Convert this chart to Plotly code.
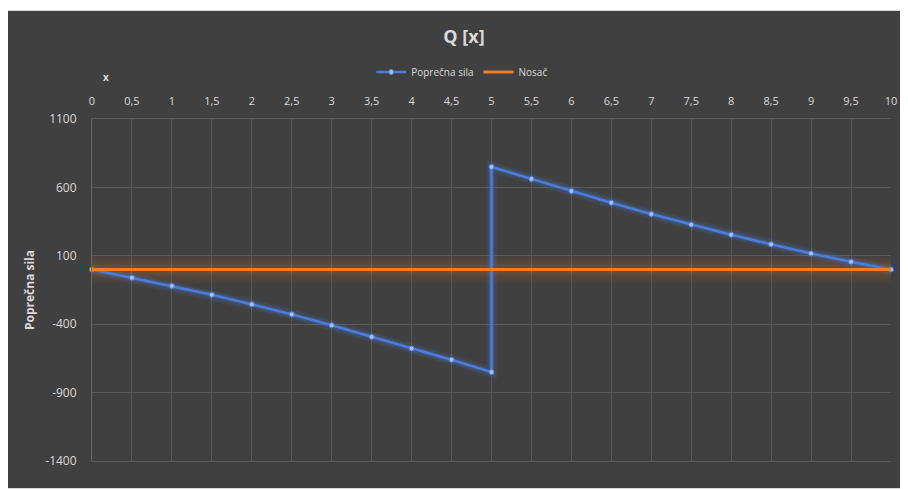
import plotly.graph_objects as go

# Data
x_sila = [0, 0.5, 1, 1.5, 2, 2.5, 3, 3.5, 4, 4.5, 5,
          5, 5.5, 6, 6.5, 7, 7.5, 8, 8.5, 9, 9.5, 10]
q_sila = [0, -60, -120, -185, -255, -328, -408, -492, -577, -660, -750,
          750, 662, 573, 488, 405, 328, 254, 184, 117, 56, 0]
x_nosac = [0, 10]
y_nosac = [0, 0]

x_ticks = [0, 0.5, 1, 1.5, 2, 2.5, 3, 3.5, 4, 4.5, 5, 5.5, 6, 6.5, 7, 7.5, 8, 8.5, 9, 9.5, 10]
x_ticktext = ["0", "0,5", "1", "1,5", "2", "2,5", "3", "3,5", "4", "4,5", "5",
              "5,5", "6", "6,5", "7", "7,5", "8", "8,5", "9", "9,5", "10"]
y_ticks = [-1400, -900, -400, 100, 600, 1100]
y_ticktext = ["-1400", "-900", "-400", "100", "600", "1100"]

BG = "#404040"
GRID = "#595959"
TXT = "#d9d9d9"
BLUE = "#4a7ddb"
ORANGE = "#ed7d31"
FONT = "Open Sans"

# page body has an 8px margin; figure placed at (8,8)
OFF = 8
W, H = 900, 481
ML, MR, MT, MB = 84, 11, 111, 28
PW, PH = W - ML - MR, H - MT - MB

def px_x(px):  # reference page pixel -> paper x
    return (px - OFF - ML) / PW

def px_y(py):  # reference page pixel -> paper y
    return (H - MB - (py - OFF)) / PH

fig = go.Figure()

# soft glow layers
for w, a in [(28, 0.05), (22, 0.05), (16, 0.06), (10, 0.08)]:
    fig.add_trace(go.Scatter(x=x_nosac, y=y_nosac, mode="lines",
                             line=dict(color=f"rgba(237,125,49,{a})", width=w),
                             hoverinfo="skip", showlegend=False))
for w, a in [(11, 0.08), (8, 0.12), (5, 0.18)]:
    fig.add_trace(go.Scatter(x=x_sila, y=q_sila, mode="lines",
                             line=dict(color=f"rgba(74,125,219,{a})", width=w),
                             hoverinfo="skip", showlegend=False, cliponaxis=False))

fig.add_trace(go.Scatter(x=x_sila, y=q_sila, mode="lines+markers", name="Poprečna sila",
                         line=dict(color=BLUE, width=2.5),
                         marker=dict(size=5, color="#a9c1ee", line=dict(color=BLUE, width=1)),
                         cliponaxis=False))
fig.add_trace(go.Scatter(x=x_nosac, y=y_nosac, mode="lines", name="Nosač",
                         line=dict(color=ORANGE, width=3), cliponaxis=False))

fig.update_layout(
    width=W, height=H,
    margin=dict(l=ML, r=MR, t=MT, b=MB, pad=0),
    paper_bgcolor="white",
    plot_bgcolor=BG,
    font=dict(family=FONT, color=TXT, size=11),
    title=dict(text="<b>Q [x]</b>", x=(464 - OFF) / W, xref="container", xanchor="center",
               y=1 - (37 - OFF) / H, yref="container", yanchor="middle",
               font=dict(size=18, color=TXT, family=FONT)),
    legend=dict(orientation="h", x=px_x(465), xanchor="center",
                y=px_y(72), yanchor="middle",
                font=dict(size=10, color=TXT, family=FONT),
                bgcolor="rgba(0,0,0,0)", itemwidth=30, traceorder="normal"),
    showlegend=True,
    shapes=[dict(type="rect", xref="paper", yref="paper",
                 x0=px_x(4.5), x1=px_x(907.5),
                 y0=px_y(488.5), y1=px_y(10.5),
                 fillcolor=BG, line=dict(color="#d9d9d9", width=1), layer="below")],
    annotations=[dict(text="<b>x</b>", xref="paper", yref="paper",
                      x=px_x(106), y=px_y(77),
                      xanchor="center", yanchor="middle", showarrow=False,
                      font=dict(size=10, color=TXT, family=FONT))],
)

fig.update_xaxes(side="top", range=[0, 10], tickvals=x_ticks, ticktext=x_ticktext,
                 showgrid=True, gridcolor=GRID, gridwidth=1, zeroline=False,
                 showline=True, linecolor=GRID, linewidth=1, mirror=True,
                 ticks="", ticklabelstandoff=9,
                 tickfont=dict(size=11, color=TXT, family=FONT))
fig.update_yaxes(range=[-1400, 1100], tickvals=y_ticks, ticktext=y_ticktext,
                 showgrid=True, gridcolor=GRID, gridwidth=1, zeroline=False,
                 showline=True, linecolor="#6a6a6a", linewidth=1, mirror=False,
                 ticks="", ticklabelstandoff=12,
                 title=dict(text="<b>Poprečna sila</b>", standoff=8,
                            font=dict(size=12, color=TXT, family=FONT)),
                 tickfont=dict(size=12, color=TXT, family=FONT))

fig.write_html("out.html")
